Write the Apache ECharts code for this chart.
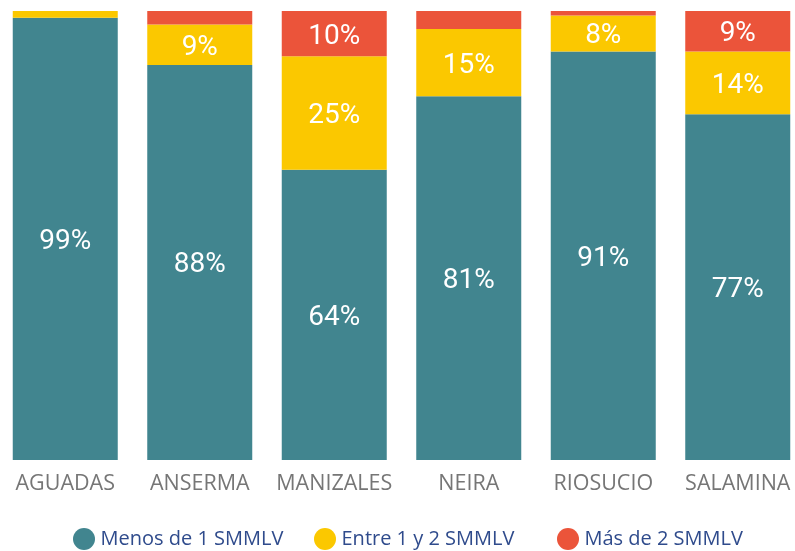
<!DOCTYPE html>
<html>
<head>
<meta charset="utf-8">
<script src="https://cdn.jsdelivr.net/npm/echarts@6/dist/echarts.min.js"></script>
<style>
  html, body { margin: 0; padding: 0; background: #fff; }
  #chart { width: 795px; height: 551px; }
</style>
</head>
<body>
<div id="chart"></div>
<script>
// municipalities and share of households per income band (%)
const municipios = ['AGUADAS', 'ANSERMA', 'MANIZALES', 'NEIRA', 'RIOSUCIO', 'SALAMINA'];
const menos1 = [98.5, 88, 64, 81, 91, 77];
const entre12 = [1.5, 9, 25, 15, 8, 14];
const mas2 = [0, 3, 10, 4, 1, 9];

const seriesDefs = [
  { name: 'Menos de 1 SMMLV', values: menos1, color: '#41858f', legendLeft: 68 },
  { name: 'Entre 1 y 2 SMMLV', values: entre12, color: '#fbc800', legendLeft: 309 },
  { name: 'Más de 2 SMMLV', values: mas2, color: '#eb543a', legendLeft: 552 },
];

// 100% stacking: each bar fills the full height
const totals = municipios.map((_, i) => seriesDefs.reduce((s, d) => s + d.values[i], 0));

const chart = echarts.init(document.getElementById('chart'));
chart.setOption({
  animation: false,
  grid: { left: -2, width: 807, top: 11, bottom: 91, outerBoundsMode: 'none' },
  // one legend per item so the spacing follows the original
  legend: seriesDefs.map(d => ({
    top: 523,
    left: d.legendLeft,
    icon: 'circle',
    itemWidth: 23,
    itemHeight: 22,
    textStyle: { color: '#2f4b8c', fontSize: 20, fontFamily: 'Open Sans, sans-serif' },
    data: [d.name],
  })),
  xAxis: {
    type: 'category',
    data: municipios,
    axisLine: { show: false },
    axisTick: { show: false },
    axisLabel: {
      color: '#767676', fontSize: 21.5, margin: 13, interval: 0,
      fontFamily: 'Open Sans, sans-serif',
    },
  },
  yAxis: {
    type: 'value', min: 0, max: 1,
    show: false,
    splitLine: { show: false },
  },
  series: seriesDefs.map(d => ({
    name: d.name,
    type: 'bar',
    stack: 'total',
    barWidth: 105,
    itemStyle: { color: d.color },
    data: d.values.map((v, i) => ({ value: v / totals[i], raw: v })),
    label: {
      show: true,
      position: 'inside',
      offset: [0, 3],
      color: '#fff',
      fontSize: 28,
      fontFamily: 'Roboto, sans-serif',
      formatter: p => (p.data.raw >= 5 ? Math.round(p.data.raw) + '%' : ''),
    },
  })),
});
</script>
</body>
</html>
